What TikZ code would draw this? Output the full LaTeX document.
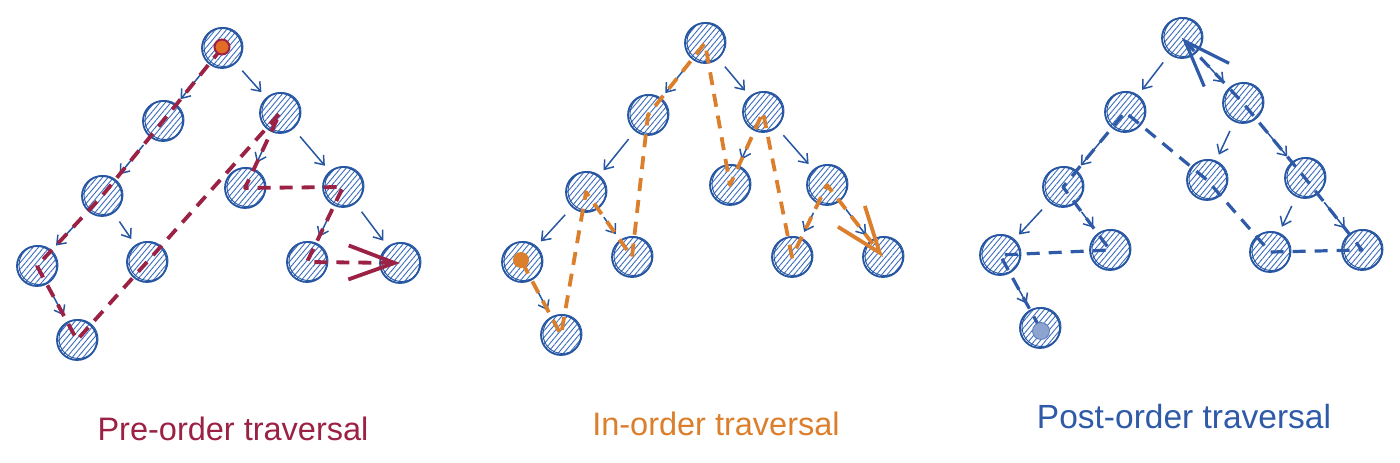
\documentclass[tikz,border=0pt]{standalone}
\usepackage{fontspec}
\setmainfont{Liberation Sans}
\usetikzlibrary{arrows.meta,patterns.meta}
\definecolor{nblue}{RGB}{38,86,162}
\definecolor{hblue}{RGB}{58,108,188}
\definecolor{crim}{RGB}{155,34,68}
\definecolor{orng}{RGB}{219,127,44}
\definecolor{pblue}{RGB}{46,90,168}
\begin{document}
\begin{tikzpicture}[x=1pt,y=-1pt,
  tn/.style={circle,minimum size=40pt,inner sep=0pt,draw=nblue,line width=1.8pt,
    pattern={Lines[angle=50,distance=4.2pt,line width=0.9pt]},pattern color=hblue},
  te/.style={draw=nblue,line width=1.5pt,-{Straight Barb[length=8pt,width=12pt]},
    shorten <=10pt,shorten >=7pt},
  trav/.style={line width=3.8pt,dash pattern=on 13pt off 9pt,line join=round},
  big/.style={-{Straight Barb[length=46pt,width=34pt]}},
  lab/.style={font=\fontsize{32.5}{36}\selectfont,anchor=base}]
\useasboundingbox (0,0) rectangle (1400,463);
% ---------- tree 1 (pre-order)
\node[tn] (p0) at (222,48) {};
\node[tn] (pa) at (163,121) {};
\node[tn] (pb) at (280,113) {};
\node[tn] (pc) at (102,196) {};
\node[tn] (pd) at (37,266) {};
\node[tn] (pe) at (147,262) {};
\node[tn] (pf) at (77,340) {};
\node[tn] (pg) at (245,188) {};
\node[tn] (ph) at (343,187) {};
\node[tn] (pi) at (307,262) {};
\node[tn] (pj) at (400,263) {};
% ---------- tree 2 (in-order)
\node[tn] (i0) at (705,43) {};
\node[tn] (ia) at (648,115) {};
\node[tn] (ib) at (763,112) {};
\node[tn] (ic) at (586,192) {};
\node[tn] (id) at (522,262) {};
\node[tn] (ie) at (632,257) {};
\node[tn] (if) at (561,335) {};
\node[tn] (ig) at (730,185) {};
\node[tn] (ih) at (827,185) {};
\node[tn] (ii) at (792,257) {};
\node[tn] (ij) at (883,257) {};
% ---------- tree 3 (post-order)
\node[tn] (q0) at (1182,38) {};
\node[tn] (qa) at (1125,112) {};
\node[tn] (qb) at (1243,103) {};
\node[tn] (qc) at (1063,187) {};
\node[tn] (qd) at (1000,255) {};
\node[tn] (qe) at (1110,250) {};
\node[tn] (qf) at (1040,328) {};
\node[tn] (qg) at (1207,180) {};
\node[tn] (qh) at (1305,178) {};
\node[tn] (qi) at (1270,252) {};
\node[tn] (qj) at (1362,250) {};
% sketchy second outline
\foreach \t in {p,i,q}{
  \foreach \n in {0,a,b,c,d,e,f,g,h,i,j}{
    \draw[nblue,line width=0.9pt] ([shift={(1.5,-1)}]\t\n.center) circle (19.5pt);
  }
}
% tree edges
\foreach \t in {p,i,q}{
  \foreach \u/\v in {0/a,0/b,a/c,c/d,c/e,d/f,b/g,b/h,h/i,h/j}{
    \draw[te] (\t\u) -- (\t\v);
  }
}
% traversals
\draw[trav,crim,big] (p0.center) -- (pa.center) -- (pc.center) -- (pd.center) -- (pf.center)
  -- (pe.center) -- (pb.center) -- (pg.center) -- (ph.center) -- (pi.center) -- (pj.center);
\draw[trav,orng,big] (id.center) -- (if.center) -- (ic.center) -- (ie.center) -- (ia.center)
  -- (i0.center) -- (ig.center) -- (ib.center) -- (ii.center) -- (ih.center) -- (ij.center);
\draw[trav,pblue,line width=3.2pt,big] (qf.center) -- (qd.center) -- (qe.center) -- (qc.center)
  -- (qa.center) -- (qg.center) -- (qi.center) -- (qj.center) -- (qh.center) -- (qb.center) -- (q0.center);
% start dots
\node[circle,minimum size=15pt,inner sep=0pt,fill=orng!85!red,draw=crim,line width=2pt] (pdot) at (222,47) {};
\node[circle,minimum size=16pt,inner sep=0pt,fill=orng] (idot) at (521,260) {};
\node[circle,minimum size=17pt,inner sep=0pt,fill=pblue!55,draw=pblue!80,line width=0.8pt] (qdot) at (1041,331) {};
% labels
\node[lab,crim] (l1) at (233,440) {Pre-order traversal};
\node[lab,orng] (l2) at (716,435) {In-order traversal};
\node[lab,pblue,font=\fontsize{33.5}{37}\selectfont] (l3) at (1184,428) {Post-order traversal};
\end{tikzpicture}
\end{document}
